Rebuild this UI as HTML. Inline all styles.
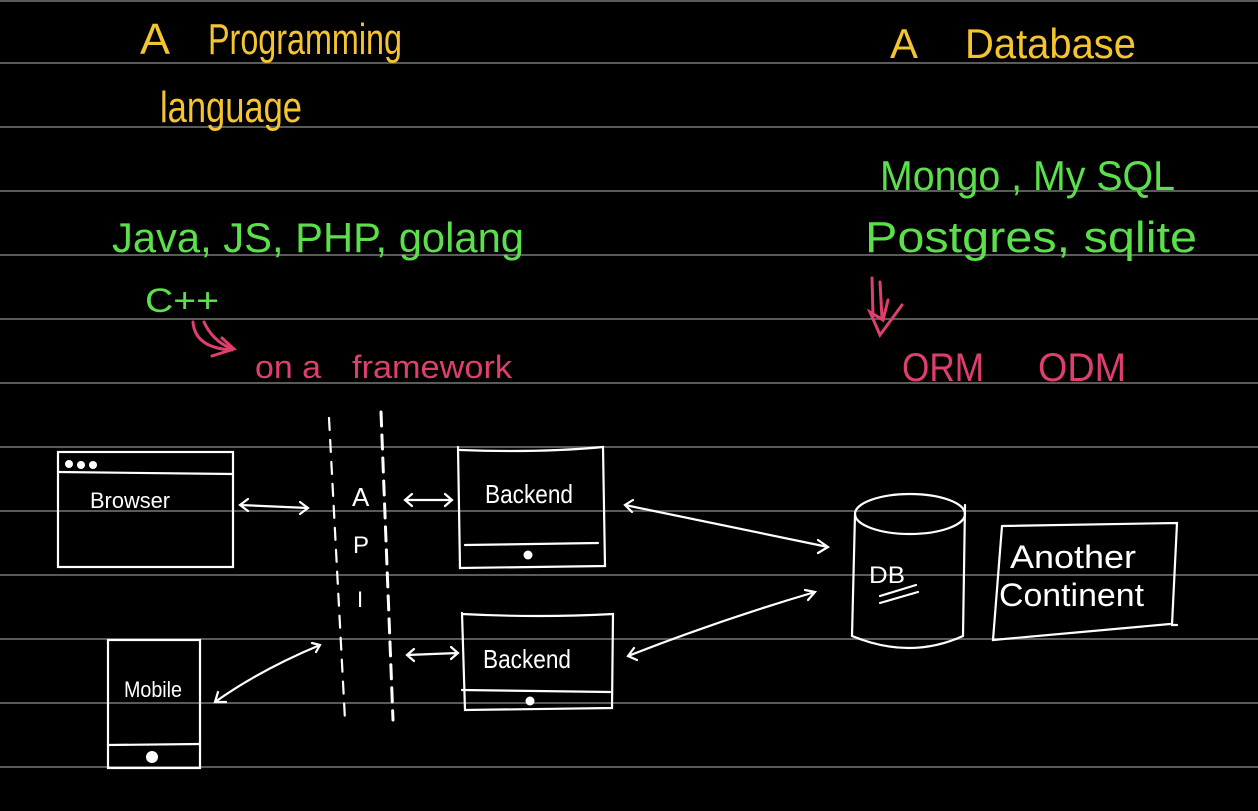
<!DOCTYPE html>
<html><head><meta charset="utf-8"><style>
html,body{margin:0;padding:0;background:#000;}
svg{display:block}
text{font-family:"Liberation Sans",sans-serif;}
</style></head><body>
<svg width="1258" height="811" viewBox="0 0 1258 811" xmlns="http://www.w3.org/2000/svg">
<rect width="1258" height="811" fill="#000"/>
<g stroke="#5a5a5a" stroke-width="2">
<line x1="0" y1="1" x2="1258" y2="1"/>
<line x1="0" y1="63" x2="1258" y2="63"/>
<line x1="0" y1="127" x2="1258" y2="127"/>
<line x1="0" y1="191" x2="1258" y2="191"/>
<line x1="0" y1="255" x2="1258" y2="255"/>
<line x1="0" y1="319" x2="1258" y2="319"/>
<line x1="0" y1="383" x2="1258" y2="383"/>
<line x1="0" y1="447" x2="1258" y2="447"/>
<line x1="0" y1="511" x2="1258" y2="511"/>
<line x1="0" y1="575" x2="1258" y2="575"/>
<line x1="0" y1="639" x2="1258" y2="639"/>
<line x1="0" y1="703" x2="1258" y2="703"/>
<line x1="0" y1="767" x2="1258" y2="767"/>
</g>
<g fill="#f4c531">
<text x="140" y="54" font-size="44" textLength="30" lengthAdjust="spacingAndGlyphs">A</text>
<text x="208" y="54" font-size="44" textLength="194" lengthAdjust="spacingAndGlyphs">Programming</text>
<text x="160" y="122" font-size="44" textLength="142" lengthAdjust="spacingAndGlyphs">language</text>
<text x="890" y="58" font-size="42" textLength="28" lengthAdjust="spacingAndGlyphs">A</text>
<text x="965" y="58" font-size="42" textLength="171" lengthAdjust="spacingAndGlyphs">Database</text>
</g>
<g fill="#5be04c">
<text x="112" y="252" font-size="42" textLength="412" lengthAdjust="spacingAndGlyphs">Java, JS, PHP, golang</text>
<text x="145" y="312" font-size="34" textLength="74" lengthAdjust="spacingAndGlyphs">C++</text>
<text x="880" y="190" font-size="42" textLength="295" lengthAdjust="spacingAndGlyphs">Mongo , My SQL</text>
<text x="865" y="252" font-size="44" textLength="332" lengthAdjust="spacingAndGlyphs">Postgres, sqlite</text>
</g>
<g fill="#df3f6c">
<text x="255" y="378" font-size="32" textLength="66" lengthAdjust="spacingAndGlyphs">on a</text>
<text x="352" y="378" font-size="32" textLength="160" lengthAdjust="spacingAndGlyphs">framework</text>
<text x="902" y="381" font-size="40" textLength="82" lengthAdjust="spacingAndGlyphs">ORM</text>
<text x="1038" y="381" font-size="40" textLength="88" lengthAdjust="spacingAndGlyphs">ODM</text>
</g>
<g fill="none" stroke="#df3f6c" stroke-width="3" stroke-linecap="round">
<path d="M193 322 Q195 348 232 350"/><path d="M204 322 Q212 340 230 348"/><path d="M222 338 L234 349 L212 356"/>
<path d="M872 278 L873 316"/><path d="M880 282 L882 318 M888 300 L883 320 L870 312 L880 335 L902 305"/>
</g>
<g fill="none" stroke="#fff" stroke-width="2.2" stroke-linecap="round">
<rect x="58" y="452" width="175" height="115"/>
<line x1="58" y1="472" x2="233" y2="474"/>
<rect x="108" y="640" width="92" height="128"/>
<line x1="108" y1="745" x2="200" y2="744"/>
<path d="M458 447 L460 568 L605 566 L603 447 Q540 453 460 450"/>
<line x1="465" y1="545" x2="598" y2="543"/>
<path d="M462 613 L465 710 L612 708 L613 614 Q540 618 462 614"/>
<line x1="462" y1="690" x2="610" y2="692"/>
<line x1="329" y1="418" x2="345" y2="720" stroke-dasharray="12 10"/>
<line x1="381" y1="412" x2="393" y2="720" stroke-dasharray="14 9" stroke-width="3"/>
<ellipse cx="910" cy="514" rx="55" ry="20"/>
<path d="M855 514 L852 636 Q910 660 963 636 L965 505"/>
<line x1="880" y1="596" x2="916" y2="585"/><line x1="880" y1="603" x2="918" y2="592"/>
<path d="M1002 526 L1177 523 L1172 625 L1177 625 M1002 526 L993 640 L1170 624"/>
<path d="M240 505 L308 508 M248 499 L240 505 L248 511 M300 502 L308 508 L300 514"/>
<path d="M405 500 L452 500 M412 494 L405 500 L412 506 M445 494 L452 500 L445 506"/>
<path d="M407 655 L458 653 M414 649 L407 655 L414 661 M451 647 L458 653 L451 659"/>
<path d="M215 702 Q260 670 320 645 M218 692 L215 702 L226 702 M312 643 L320 645 L316 652"/>
<path d="M625 505 L828 547 M633 500 L625 505 L632 512 M818 540 L828 547 L818 553"/>
<path d="M628 656 Q720 620 815 592 M634 648 L628 656 L637 660 M805 590 L815 592 L808 600"/>
</g>
<g fill="#fff">
<circle cx="69" cy="464" r="4"/><circle cx="81" cy="465" r="4"/><circle cx="93" cy="465" r="4"/>
<circle cx="152" cy="757" r="6"/>
<circle cx="528" cy="555" r="4.5"/>
<circle cx="530" cy="701" r="4.5"/>
</g>
<g fill="#fff">
<text x="90" y="508" font-size="22" textLength="80" lengthAdjust="spacingAndGlyphs">Browser</text>
<text x="124" y="697" font-size="22" textLength="58" lengthAdjust="spacingAndGlyphs">Mobile</text>
<text x="485" y="503" font-size="26" textLength="88" lengthAdjust="spacingAndGlyphs">Backend</text>
<text x="483" y="668" font-size="26" textLength="88" lengthAdjust="spacingAndGlyphs">Backend</text>
<text x="352" y="506" font-size="26">A</text>
<text x="353" y="553" font-size="24">P</text>
<text x="357" y="607" font-size="22">I</text>
<text x="869" y="583" font-size="24" textLength="36" lengthAdjust="spacingAndGlyphs">DB</text>
<text x="1010" y="568" font-size="32" textLength="126" lengthAdjust="spacingAndGlyphs">Another</text>
<text x="999" y="606" font-size="32" textLength="145" lengthAdjust="spacingAndGlyphs">Continent</text>
</g>
</svg>
</body></html>
